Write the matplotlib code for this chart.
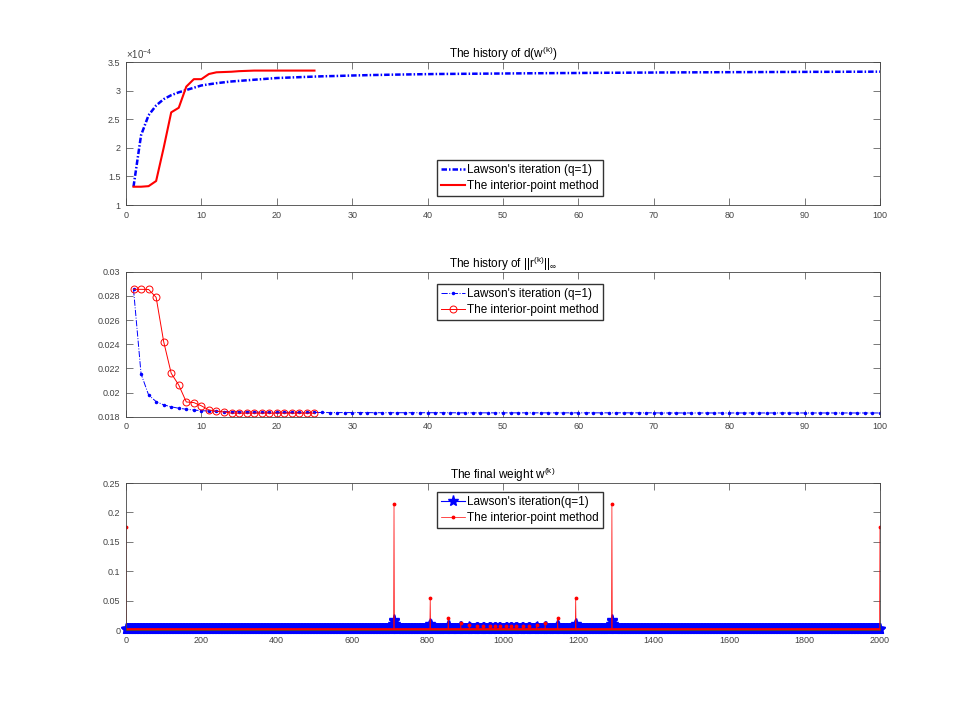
import matplotlib
matplotlib.use("Agg")
import matplotlib.pyplot as plt
from matplotlib.ticker import FuncFormatter
import numpy as np

plt.rcParams["font.family"] = ["Liberation Sans", "DejaVu Sans"]
plt.rcParams["mathtext.fontset"] = "custom"
plt.rcParams["mathtext.rm"] = "Liberation Sans"
plt.rcParams["mathtext.it"] = "Liberation Sans"

# ---- panel 1: d(w^(k)) ----
k_lawson = np.arange(1, 101)
k_ipm = np.arange(1, 26)
d_lawson = np.array([
    1.32, 2.22, 2.57, 2.74, 2.85, 2.92, 2.97, 3.01, 3.05, 3.09,
    3.11, 3.13, 3.145, 3.16, 3.17, 3.18, 3.19, 3.20, 3.21, 3.22,
    3.225, 3.23, 3.235, 3.24, 3.245, 3.25, 3.253, 3.256, 3.26, 3.264,
    3.267, 3.27, 3.273, 3.275, 3.278, 3.28, 3.282, 3.284, 3.286, 3.288,
    3.29, 3.291, 3.292, 3.293, 3.294, 3.295, 3.296, 3.297, 3.298, 3.299,
    3.300, 3.301, 3.302, 3.303, 3.304, 3.305, 3.306, 3.307, 3.307, 3.308,
    3.309, 3.31, 3.311, 3.312, 3.312, 3.313, 3.314, 3.315, 3.315, 3.316,
    3.317, 3.317, 3.318, 3.319, 3.319, 3.32, 3.32, 3.321, 3.322, 3.322,
    3.323, 3.323, 3.324, 3.324, 3.325, 3.325, 3.326, 3.326, 3.327, 3.327,
    3.328, 3.328, 3.328, 3.329, 3.329, 3.33, 3.33, 3.33, 3.331, 3.331]) * 1e-4
d_ipm = np.array([
    1.32, 1.32, 1.33, 1.42, 2.0, 2.62, 2.70, 3.07, 3.20, 3.20,
    3.29, 3.32, 3.325, 3.33, 3.34, 3.345, 3.35, 3.35, 3.35, 3.35,
    3.35, 3.35, 3.35, 3.35, 3.35]) * 1e-4

# ---- panel 2: ||r^(k)||_inf ----
r_lawson = np.array([
    0.02854, 0.02155, 0.01980, 0.01925, 0.01898, 0.01882, 0.01870, 0.01862, 0.01855, 0.01850,
    0.01847, 0.01845, 0.01843, 0.01841, 0.01840, 0.01839, 0.01838, 0.01837, 0.01837, 0.01836,
    0.01836, 0.01836, 0.01835, 0.01835, 0.01835, 0.01835, 0.01834, 0.01834, 0.01834, 0.01834,
    0.01834, 0.01834, 0.01833, 0.01833, 0.01833, 0.01833, 0.01833, 0.01833, 0.01833, 0.01833,
    0.01833, 0.01833, 0.01833, 0.01832, 0.01832, 0.01832, 0.01832, 0.01832, 0.01832, 0.01832,
    0.01832, 0.01832, 0.01832, 0.01832, 0.01832, 0.01832, 0.01832, 0.01832, 0.01832, 0.01832,
    0.01832, 0.01832, 0.01832, 0.01832, 0.01832, 0.01832, 0.01832, 0.01832, 0.01832, 0.01832,
    0.01831, 0.01831, 0.01831, 0.01831, 0.01831, 0.01831, 0.01831, 0.01831, 0.01831, 0.01831,
    0.01831, 0.01831, 0.01831, 0.01831, 0.01831, 0.01831, 0.01831, 0.01831, 0.01831, 0.01831,
    0.01831, 0.01831, 0.01831, 0.01831, 0.01831, 0.01831, 0.01831, 0.01831, 0.01831, 0.01831])
r_ipm = np.array([
    0.02854, 0.02854, 0.02853, 0.02788, 0.02421, 0.02159, 0.02062, 0.01922, 0.01917, 0.01890,
    0.01856, 0.01845, 0.01840, 0.01829, 0.01829, 0.01829, 0.01829, 0.01829, 0.01829, 0.01829,
    0.01829, 0.01829, 0.01829, 0.01829, 0.01829])

# ---- panel 3: final weights ----
n_nodes = 2001
w_lawson_base = 0.0012
w_ipm_base = 0.0008
peak_idx = [0, 711, 807, 855, 888, 911, 931, 948, 965, 979, 991,
            1009, 1021, 1035, 1052, 1069, 1089, 1112, 1145, 1193, 1289, 2000]
ipm_peak = [0.175, 0.215, 0.054, 0.021, 0.0125, 0.009, 0.0075, 0.007, 0.0065, 0.006, 0.006,
            0.006, 0.006, 0.0065, 0.007, 0.0075, 0.009, 0.0125, 0.021, 0.054, 0.215, 0.175]
lawson_peak = [0.0012, 0.017, 0.010, 0.007, 0.0055, 0.0045, 0.004, 0.0035, 0.0035, 0.0035, 0.0035,
               0.0035, 0.0035, 0.0035, 0.0035, 0.004, 0.0045, 0.0055, 0.007, 0.010, 0.017, 0.0012]
bump_shape = [0.15, 0.35, 0.6, 0.85, 1.0, 0.85, 0.6, 0.35, 0.15]

nodes = np.arange(n_nodes)
w_ipm = np.full(n_nodes, w_ipm_base)
w_lawson = np.full(n_nodes, w_lawson_base)
for i, hi, hl in zip(peak_idx, ipm_peak, lawson_peak):
    w_ipm[i] = hi
    for off, s in zip(range(-4, 5), bump_shape):
        j = i + off
        if 0 <= j < n_nodes:
            w_lawson[j] = max(w_lawson[j], w_lawson_base + (hl - w_lawson_base) * s)

fig = plt.figure(figsize=(9.72, 7.07), dpi=100)
ax1 = fig.add_axes([0.1296, 0.710, 0.7757, 0.2023])
ax2 = fig.add_axes([0.1296, 0.4106, 0.7757, 0.2051])
ax3 = fig.add_axes([0.1296, 0.1089, 0.7757, 0.2079])

def style(ax):
    ax.tick_params(direction="in", top=True, right=True, length=5, width=0.5,
                   labelsize=6.5, colors="#444444", pad=4)
    for s in ax.spines.values():
        s.set_linewidth(0.6)
        s.set_color("#444444")

legkw = dict(frameon=True, fancybox=False, framealpha=1, edgecolor="#333333",
             fontsize=8.5, borderaxespad=0, handlelength=2.0, handletextpad=0.2,
             borderpad=0.35, labelspacing=0.3)

ax1.plot(k_lawson, d_lawson, color="b", lw=1.8, dashes=(2.2, 0.8, 0.6, 0.8),
         label="Lawson's iteration (q=1)")
ax1.plot(k_ipm, d_ipm, "r-", lw=1.5, label="The interior-point method")
ax1.set_xlim(0, 100)
ax1.set_ylim(1e-4, 3.5e-4)
ax1.set_xticks(range(0, 101, 10))
ax1.set_yticks(np.arange(1, 3.51, 0.5) * 1e-4)
ax1.yaxis.set_major_formatter(FuncFormatter(lambda v, p: "%g" % round(v / 1e-4, 4)))
ax1.text(0.0, 1.005, r"$\times10^{-4}$", transform=ax1.transAxes, fontsize=7,
         color="#444444", ha="left", va="bottom")
ax1.set_title("The history of d(w$^{(k)}$)", fontsize=8.5, pad=3)
ax1.legend(loc="lower left", bbox_to_anchor=(0.4125, 0.063), **legkw)
style(ax1)

ax2.plot(k_lawson, r_lawson, "b-.", lw=0.7, marker=".", ms=3, label="Lawson's iteration (q=1)")
ax2.plot(k_ipm, r_ipm, "r-", lw=0.7, marker="o", ms=5, mfc="none", mew=0.7,
         label="The interior-point method")
ax2.set_xlim(0, 100)
ax2.set_ylim(0.018, 0.03)
ax2.set_xticks(range(0, 101, 10))
ax2.set_yticks(np.arange(0.018, 0.03001, 0.002))
ax2.yaxis.set_major_formatter(FuncFormatter(lambda v, p: "%g" % round(v, 4)))
ax2.set_title(r"The history of ||r$^{(k)}$||$_{\infty}$", fontsize=8.5, pad=3)
ax2.legend(loc="upper left", bbox_to_anchor=(0.4125, 0.915), **legkw)
style(ax2)

ax3.plot(nodes, w_lawson, "b-", lw=0.8, marker="*", ms=8, clip_on=False,
         label="Lawson's iteration(q=1)")
ax3.plot(nodes, w_ipm, "r-", lw=0.5, marker=".", ms=3.5, label="The interior-point method")
ax3.set_xlim(0, 2000)
ax3.set_ylim(0, 0.25)
ax3.set_xticks(range(0, 2001, 200))
ax3.set_yticks(np.arange(0, 0.2501, 0.05))
ax3.yaxis.set_major_formatter(FuncFormatter(lambda v, p: "%g" % round(v, 4)))
ax3.set_title("The final weight w$^{(k)}$", fontsize=8.5, pad=3)
ax3.legend(loc="upper left", bbox_to_anchor=(0.4125, 0.939), **legkw)
style(ax3)

fig.savefig("out.png", dpi=100)
